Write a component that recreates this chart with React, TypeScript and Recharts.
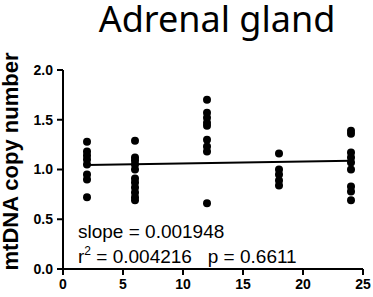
import { ScatterChart, Scatter, XAxis, YAxis } from 'recharts';

// time points (x) and the measured values at each one
const timePoints = [2, 6, 12, 18, 24];
const group2 = [1.28, 1.18, 1.14, 1.10, 1.05, 0.95, 0.90, 0.72];
const group6 = [1.29, 1.12, 1.09, 1.05, 1.00, 0.91, 0.87, 0.82, 0.77, 0.72, 0.69];
const group12 = [1.70, 1.57, 1.52, 1.47, 1.44, 1.30, 1.23, 1.18, 0.66];
const group18 = [1.16, 1.00, 0.95, 0.89, 0.84];
const group24 = [1.39, 1.36, 1.17, 1.12, 1.07, 1.00, 0.83, 0.78, 0.69];

// regression line end points
const fitX = [2, 24];
const fitY = [1.045, 1.088];

const xTicks = [0, 5, 10, 15, 20, 25];
const yTicks = [0, 0.5, 1.0, 1.5, 2.0];

const groups = [group2, group6, group12, group18, group24];
const points = groups.flatMap((vals, i) => vals.map((y) => ({ x: timePoints[i], y })));
const fit = fitX.map((x, i) => ({ x, y: fitY[i] }));

const W = 373;
const H = 297;
const font = '"Liberation Sans", Arial, sans-serif';

const Dot = (props: any) => <circle cx={props.cx} cy={props.cy} r={4} fill="#000" />;
const NoDot = () => <g />;

export default function App() {
  return (
    <div style={{ position: 'absolute', left: 0, top: 0, width: W, height: H, background: '#fff' }}>
      <ScatterChart width={W} height={H} margin={{ top: 70, right: 10, bottom: 0, left: 0 }}>
        <XAxis
          type="number"
          dataKey="x"
          domain={[0, 25]}
          ticks={xTicks}
          height={28}
          axisLine={{ stroke: '#000', strokeWidth: 2 }}
          tickLine={{ stroke: '#000', strokeWidth: 2 }}
          tickSize={6}
          tickMargin={4}
          tick={{ fill: '#000', fontSize: 14, fontWeight: 'bold', fontFamily: font }}
        />
        <YAxis
          type="number"
          dataKey="y"
          domain={[0, 2]}
          ticks={yTicks}
          width={63}
          axisLine={{ stroke: '#000', strokeWidth: 2 }}
          tickLine={{ stroke: '#000', strokeWidth: 2 }}
          tickSize={6}
          tickMargin={4}
          tickFormatter={(v: number) => v.toFixed(1)}
          tick={{ fill: '#000', fontSize: 14, fontWeight: 'bold', fontFamily: font }}
        />
        <Scatter data={fit} line={{ stroke: '#000', strokeWidth: 2 }} shape={NoDot} isAnimationActive={false} />
        <Scatter data={points} shape={Dot} isAnimationActive={false} />
      </ScatterChart>
      <svg width={W} height={H} style={{ position: 'absolute', left: 0, top: 0, pointerEvents: 'none' }}>
        <text x={217} y={32} textAnchor="middle" fontSize={36} fontFamily='"Noto Sans", sans-serif' fill="#000">
          Adrenal gland
        </text>
        <text
          transform="translate(18,161.5) rotate(-90)"
          textAnchor="middle"
          fontSize={22}
          fontWeight="bold"
          fontFamily={font}
          fill="#000"
        >
          mtDNA copy number
        </text>
        <text x={78} y={238} fontSize={19} fontFamily={font} fill="#000">
          slope = 0.001948
        </text>
        <text x={78} y={263} fontSize={19} fontFamily={font} fill="#000" xmlSpace="preserve">
          r<tspan fontSize={12} dy={-8}>2</tspan>
          <tspan dy={8}> = 0.004216   p = 0.6611</tspan>
        </text>
      </svg>
    </div>
  );
}
